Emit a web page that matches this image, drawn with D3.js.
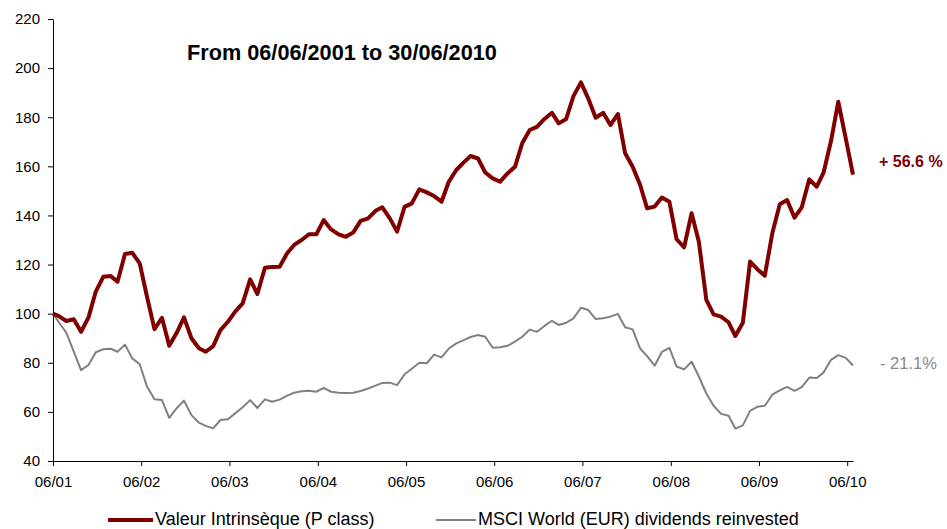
<!DOCTYPE html>
<html>
<head>
<meta charset="utf-8">
<script src="https://cdn.jsdelivr.net/npm/d3@7"></script>
<style>
  html, body { margin: 0; padding: 0; background: #fff; }
  svg { display: block; font-family: "Liberation Sans", Arial, sans-serif; }
</style>
</head>
<body>
<svg id="chart" width="947" height="529"></svg>
<script>
// ---- Data ----
const startDate = new Date(2001, 5, 6);
const endDate = new Date(2010, 5, 30);
// first point on 06/06/2001 then month-end points from June 2001 to June 2010
const dates = [startDate].concat(d3.range(109).map(k => new Date(2001, 6 + k, 0)));

const valeurIntrinseque = [100,
  99, 97, 97.7, 92.6, 98.5, 109, 115, 115.3, 113, 124.3, 124.8, 120.5,
  106.9, 93.7, 98.3, 86.9, 92.2, 98.5, 90, 85.9, 84.5, 86.8, 93.3, 96.7,
  100.8, 104.2, 114, 108, 118.7, 119, 119.1, 124.6, 128, 130, 132.3, 132.3,
  138.1, 134.3, 132.3, 131.3, 133.1, 137.8, 138.8, 141.9, 143.3, 138.8, 133.4, 143.5,
  144.9, 150.6, 149.4, 147.9, 145.6, 153.7, 158.5, 161.6, 164.2, 163.2, 157.5, 155.1,
  153.7, 157.1, 159.8, 169.4, 174.8, 176.1, 179.3, 181.8, 177.5, 179.3, 188.6, 194.2,
  187.7, 179.8, 181.8, 176.8, 181.3, 165.3, 159.8, 152.4, 142.9, 143.6, 147.3, 145.6,
  130.3, 127, 140.9, 129.3, 105.6, 99.7, 98.8, 96.5, 90.9, 96.3, 121.2, 118,
  115.5, 132.7, 144.6, 146.3, 139.1, 143.3, 154.7, 151.7, 157.4, 170.3, 186.3, 171.4,
  156.6];

const msciWorld = [100,
  96.5, 92.3, 84.5, 77, 79.1, 84.3, 85.5, 85.7, 84.5, 87.4, 81.8, 79.4,
  70.3, 65.1, 64.8, 57.6, 61.5, 64.6, 58.7, 55.6, 54.3, 53.3, 56.7, 57,
  59.4, 61.9, 64.8, 61.6, 65.1, 64.1, 65, 66.6, 67.8, 68.4, 68.6, 68.2,
  69.8, 68.2, 67.8, 67.7, 67.8, 68.5, 69.5, 70.7, 71.8, 71.9, 70.9, 75.3,
  77.6, 80, 79.8, 83.3, 82.2, 85.8, 87.9, 89.2, 90.5, 91.3, 90.6, 86.1,
  86.3, 86.9, 88.6, 90.6, 93.5, 92.6, 95, 97.1, 95.4, 96.3, 98.1, 102.4,
  101.5, 97.8, 98.1, 98.8, 99.9, 94.5, 93.6, 85.8, 82.7, 78.8, 84.4, 86.1,
  78.5, 77.3, 80.4, 74.4, 67.5, 62.5, 59.2, 58.4, 53.2, 54.5, 60.4, 62.1,
  62.5, 67, 68.8, 70.2, 68.6, 70.1, 74, 73.8, 76, 81.2, 83.1, 82,
  78.9];

const yTicks = [40, 60, 80, 100, 120, 140, 160, 180, 200, 220];
const xTickDates = d3.range(2001, 2011).map(y => new Date(y, 5, 6));
const seriesNames = ["Valeur Intrinsèque (P class)", "MSCI World (EUR) dividends reinvested"];
const endLabels = ["+ 56.6 %", "- 21.1%"];
const titleText = "From 06/06/2001 to 30/06/2010";

// ---- Layout ----
const svg = d3.select("#chart");
const x = d3.scaleTime().domain([startDate, endDate]).range([53, 853]);
const y = d3.scaleLinear().domain([40, 220]).range([461, 19]);

// Y axis
const yAxis = svg.append("g")
  .attr("transform", "translate(53,0)")
  .call(d3.axisLeft(y).tickValues(yTicks).tickSize(5).tickPadding(8).tickSizeOuter(0));
yAxis.select(".domain").attr("stroke", "#000");
yAxis.selectAll(".tick line").attr("stroke", "#000");
yAxis.selectAll("text").attr("font-size", 15).attr("fill", "#000")
  .attr("font-family", "'Liberation Sans', Arial, sans-serif");

// X axis
const xAxis = svg.append("g")
  .attr("transform", "translate(0,461)")
  .call(d3.axisBottom(x).tickValues(xTickDates).tickFormat(d3.timeFormat("%m/%y"))
    .tickSize(5).tickPadding(10).tickSizeOuter(0));
xAxis.select(".domain").attr("stroke", "#000");
xAxis.selectAll(".tick line").attr("stroke", "#000");
xAxis.selectAll("text").attr("font-size", 15).attr("fill", "#000")
  .attr("font-family", "'Liberation Sans', Arial, sans-serif");

// Lines
const line = d3.line().x((d, i) => x(dates[i])).y(d => y(d));
svg.append("path").datum(msciWorld)
  .attr("fill", "none").attr("stroke", "#808080").attr("stroke-width", 2)
  .attr("stroke-linejoin", "round").attr("d", line);
svg.append("path").datum(valeurIntrinseque)
  .attr("fill", "none").attr("stroke", "#800000").attr("stroke-width", 4)
  .attr("stroke-linejoin", "round").attr("d", line);

// Title
svg.append("text").attr("x", 187).attr("y", 60)
  .attr("font-size", 21.7).attr("font-weight", "bold").attr("fill", "#000")
  .text(titleText);

// End labels
svg.append("text").attr("x", 879).attr("y", 167)
  .attr("font-size", 16).attr("font-weight", "bold").attr("fill", "#800000")
  .text(endLabels[0]);
svg.append("text").attr("x", 880).attr("y", 369)
  .attr("font-size", 16.5).attr("fill", "#888888")
  .text(endLabels[1]);

// Legend
const legend = svg.append("g");
legend.append("line").attr("x1", 108).attr("x2", 153).attr("y1", 520).attr("y2", 520)
  .attr("stroke", "#800000").attr("stroke-width", 4);
legend.append("text").attr("x", 155).attr("y", 524.5).attr("font-size", 18).attr("fill", "#000")
  .text(seriesNames[0]);
legend.append("line").attr("x1", 436).attr("x2", 476).attr("y1", 520).attr("y2", 520)
  .attr("stroke", "#808080").attr("stroke-width", 2);
legend.append("text").attr("x", 478).attr("y", 524.5).attr("font-size", 18).attr("fill", "#000")
  .text(seriesNames[1]);
</script>
</body>
</html>
